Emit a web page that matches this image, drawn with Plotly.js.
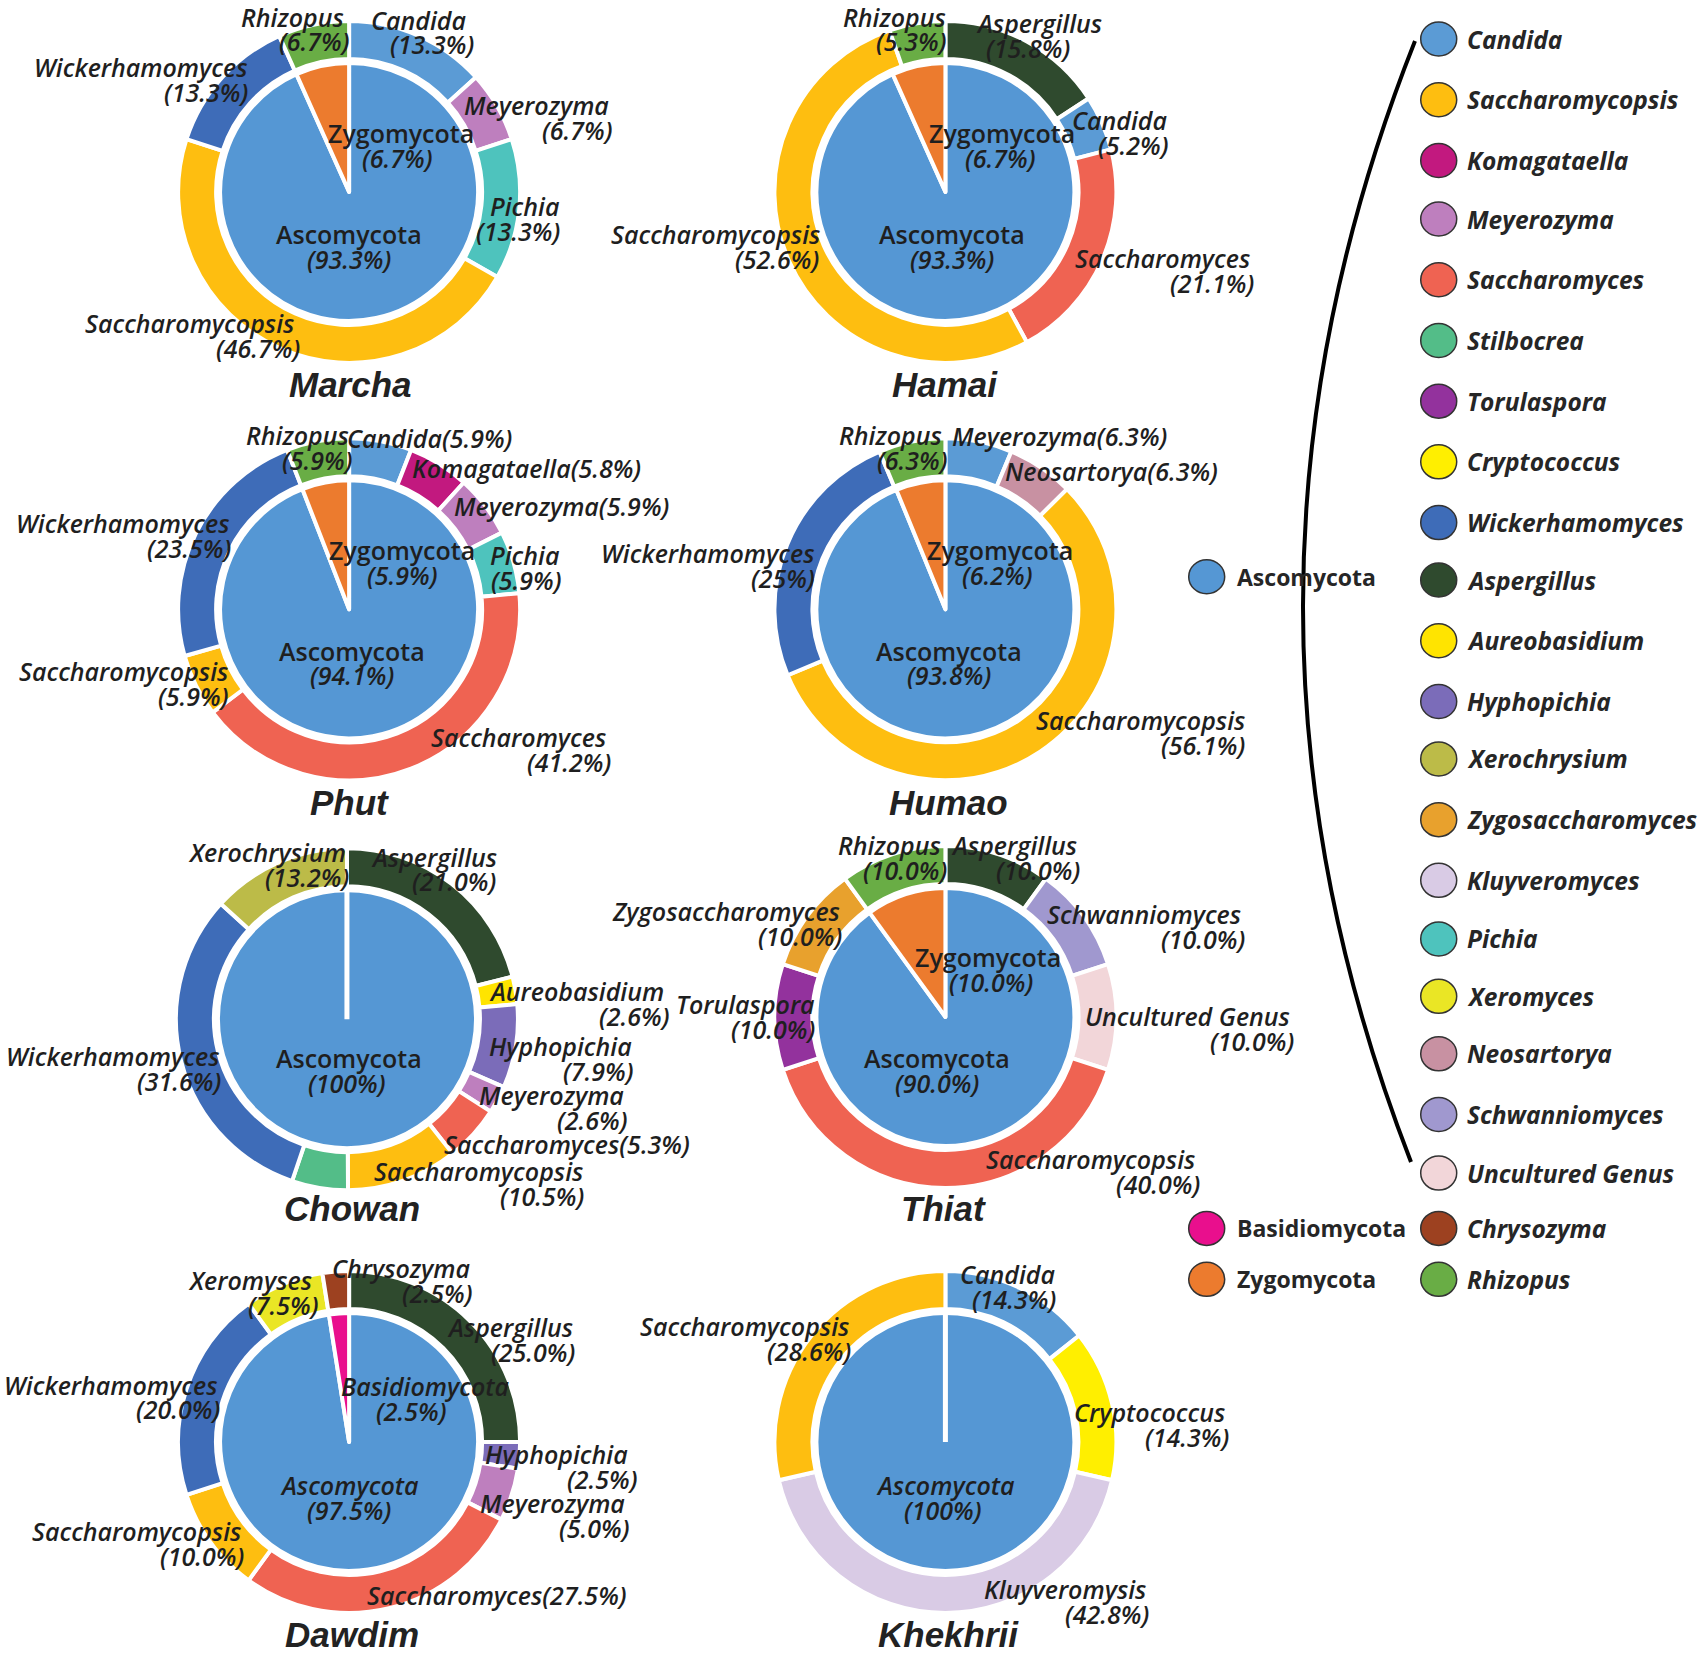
<!DOCTYPE html>
<html><head><meta charset="utf-8">
<script src="https://cdn.plot.ly/plotly-3.0.1.min.js"></script>
<style>html,body{margin:0;padding:0;background:#fff}</style>
</head><body><div id="chart" style="width:1700px;height:1655px"></div>
<script>
// ---------------- DATA ----------------
const sampleNames = ['Marcha','Hamai','Phut','Humao','Chowan','Thiat','Dawdim','Khekhrii'];

// Marcha
const marchaGenus  = ['Candida','Meyerozyma','Pichia','Saccharomycopsis','Wickerhamomyces','Rhizopus'];
const marchaValues = [13.3, 6.7, 13.3, 46.7, 13.3, 6.7];
const marchaText   = ['(13.3%)','(6.7%)','(13.3%)','(46.7%)','(13.3%)','(6.7%)'];
const marchaColorKey = ['Candida','Meyerozyma','Pichia','Saccharomycopsis','Wickerhamomyces','Rhizopus'];
const marchaPhylum = ['Ascomycota','Zygomycota'];
const marchaPhylumValues = [93.3, 6.7];
const marchaPhylumText = ['(93.3%)','(6.7%)'];

// Hamai
const hamaiGenus  = ['Aspergillus','Candida','Saccharomyces','Saccharomycopsis','Rhizopus'];
const hamaiValues = [15.8, 5.2, 21.1, 52.6, 5.3];
const hamaiText   = ['(15.8%)','(5.2%)','(21.1%)','(52.6%)','(5.3%)'];
const hamaiColorKey = ['Aspergillus','Candida','Saccharomyces','Saccharomycopsis','Rhizopus'];
const hamaiPhylum = ['Ascomycota','Zygomycota'];
const hamaiPhylumValues = [93.3, 6.7];
const hamaiPhylumText = ['(93.3%)','(6.7%)'];

// Phut
const phutGenus  = ['Candida','Komagataella','Meyerozyma','Pichia','Saccharomyces','Saccharomycopsis','Wickerhamomyces','Rhizopus'];
const phutValues = [5.9, 5.8, 5.9, 5.9, 41.2, 5.9, 23.5, 5.9];
const phutText   = ['(5.9%)','(5.8%)','(5.9%)','(5.9%)','(41.2%)','(5.9%)','(23.5%)','(5.9%)'];
const phutColorKey = ['Candida','Komagataella','Meyerozyma','Pichia','Saccharomyces','Saccharomycopsis','Wickerhamomyces','Rhizopus'];
const phutPhylum = ['Ascomycota','Zygomycota'];
const phutPhylumValues = [94.1, 5.9];
const phutPhylumText = ['(94.1%)','(5.9%)'];

// Humao
const humaoGenus  = ['Meyerozyma','Neosartorya','Saccharomycopsis','Wickerhamomyces','Rhizopus'];
const humaoValues = [6.3, 6.3, 56.1, 25, 6.3];
const humaoText   = ['(6.3%)','(6.3%)','(56.1%)','(25%)','(6.3%)'];
const humaoColorKey = ['Candida','Neosartorya','Saccharomycopsis','Wickerhamomyces','Rhizopus'];
const humaoPhylum = ['Ascomycota','Zygomycota'];
const humaoPhylumValues = [93.8, 6.2];
const humaoPhylumText = ['(93.8%)','(6.2%)'];

// Chowan
const chowanGenus  = ['Aspergillus','Aureobasidium','Hyphopichia','Meyerozyma','Saccharomyces','Saccharomycopsis','Stilbocrea','Wickerhamomyces','Xerochrysium'];
const chowanValues = [21.0, 2.6, 7.9, 2.6, 5.3, 10.5, 5.3, 31.6, 13.2];
const chowanText   = ['(21.0%)','(2.6%)','(7.9%)','(2.6%)','(5.3%)','(10.5%)','','(31.6%)','(13.2%)'];
const chowanColorKey = ['Aspergillus','Aureobasidium','Hyphopichia','Meyerozyma','Saccharomyces','Saccharomycopsis','Stilbocrea','Wickerhamomyces','Xerochrysium'];
const chowanPhylum = ['Ascomycota'];
const chowanPhylumValues = [100];
const chowanPhylumText = ['(100%)'];

// Thiat
const thiatGenus  = ['Aspergillus','Schwanniomyces','Uncultured Genus','Saccharomycopsis','Torulaspora','Zygosaccharomyces','Rhizopus'];
const thiatValues = [10.0, 10.0, 10.0, 40.0, 10.0, 10.0, 10.0];
const thiatText   = ['(10.0%)','(10.0%)','(10.0%)','(40.0%)','(10.0%)','(10.0%)','(10.0%)'];
const thiatColorKey = ['Aspergillus','Schwanniomyces','Uncultured Genus','Saccharomyces','Torulaspora','Zygosaccharomyces','Rhizopus'];
const thiatPhylum = ['Ascomycota','Zygomycota'];
const thiatPhylumValues = [90.0, 10.0];
const thiatPhylumText = ['(90.0%)','(10.0%)'];

// Dawdim
const dawdimGenus  = ['Aspergillus','Hyphopichia','Meyerozyma','Saccharomyces','Saccharomycopsis','Wickerhamomyces','Xeromyses','Chrysozyma'];
const dawdimValues = [25.0, 2.5, 5.0, 27.5, 10.0, 20.0, 7.5, 2.5];
const dawdimText   = ['(25.0%)','(2.5%)','(5.0%)','(27.5%)','(10.0%)','(20.0%)','(7.5%)','(2.5%)'];
const dawdimColorKey = ['Aspergillus','Hyphopichia','Meyerozyma','Saccharomyces','Saccharomycopsis','Wickerhamomyces','Xeromyces','Chrysozyma'];
const dawdimPhylum = ['Ascomycota','Basidiomycota'];
const dawdimPhylumValues = [97.5, 2.5];
const dawdimPhylumText = ['(97.5%)','(2.5%)'];

// Khekhrii
const khekhriiGenus  = ['Candida','Cryptococcus','Kluyveromysis','Saccharomycopsis'];
const khekhriiValues = [14.3, 14.3, 42.8, 28.6];
const khekhriiText   = ['(14.3%)','(14.3%)','(42.8%)','(28.6%)'];
const khekhriiColorKey = ['Candida','Cryptococcus','Kluyveromyces','Saccharomycopsis'];
const khekhriiPhylum = ['Ascomycota'];
const khekhriiPhylumValues = [100];
const khekhriiPhylumText = ['(100%)'];

// Legend entries
const legendGenus = ['Candida','Saccharomycopsis','Komagataella','Meyerozyma','Saccharomyces','Stilbocrea','Torulaspora','Cryptococcus','Wickerhamomyces','Aspergillus','Aureobasidium','Hyphopichia','Xerochrysium','Zygosaccharomyces','Kluyveromyces','Pichia','Xeromyces','Neosartorya','Schwanniomyces','Uncultured Genus','Chrysozyma','Rhizopus'];
const legendPhylum = ['Ascomycota','Basidiomycota','Zygomycota'];

const colorMap = {
  'Candida':'#5B9BD5','Saccharomycopsis':'#FEBE10','Komagataella':'#C2197F','Meyerozyma':'#BE7FBE',
  'Saccharomyces':'#EF6352','Stilbocrea':'#53BD88','Torulaspora':'#93329D','Cryptococcus':'#FFEF00',
  'Wickerhamomyces':'#3E6CB8','Aspergillus':'#2F4A2E','Aureobasidium':'#FFE400','Hyphopichia':'#7B6CB9',
  'Xerochrysium':'#BCBB48','Zygosaccharomyces':'#E8A12D','Kluyveromyces':'#D9CBE5','Pichia':'#4EC3BD',
  'Xeromyces':'#EAE625','Neosartorya':'#C891A2','Schwanniomyces':'#A098CF','Uncultured Genus':'#F2D6D9',
  'Chrysozyma':'#9D4120','Rhizopus':'#69AD45',
  'Ascomycota':'#5597D4','Basidiomycota':'#E90F8D','Zygomycota':'#EC7B2E'
};

// ---------------- LAYOUT POSITIONS (reference units) ----------------
const S = 1700/1568, W = 1700, H = 1655;
const centers = [[322,177],[872,177],[322,562],[872,562],[320,940],[872,938],[322,1330],[872,1330]];
const titlePos = [[323,355],[872,355],[322,740],[875,740],[325,1115],[870,1115],[325,1508],[875,1508]];
// [x, y, pctX, pctY] per genus label; pctX null => inline
const genusPos = [
  [[386,18,398],[495,97,532],[484,190,478],[175,298,238],[130,62,190],[270,16,290,38]],
  [[958,21,948],[1033,111,1045],[1072,238,1118],[660,216,717],[825,16,840,38]],
  [[396,404,null],[486,432,null],[518,467,null],[484,512,485],[478,680,525],[114,619,178],[113,482,174],[274,401,292]],
  [[977,402,null],[1025,434,null],[1052,664,1110],[653,510,722],[821,401,841]],
  [[400,790,419],[532,914,585],[517,965,552],[509,1010,546],[523,1055,null],[441,1080,500],null,[104,974,165],[246,786,283]],
  [[935,779,957],[1055,843,1110],[1095,937,1155],[1006,1069,1068],[688,926,713],[670,840,738],[820,779,835]],
  [[470,1224,492],[513,1341,555],[510,1386,548],[458,1471,null],[126,1412,186],[102,1277,164],[231,1181,261],[370,1170,403]],
  [[929,1175,935],[1060,1302,1095],[982,1466,1021],[687,1223,746]]
];
const phylumPos = [
  [[322,216,322],[370,123,366]],
  [[878,216,878],[924,123,922]],
  [[325,600,325],[371,507,371]],
  [[875,600,875],[922,507,920]],
  [[322,976,320]],
  [[864,976,864],[911,883,914]],
  [[322,1370,322],[392,1278,379]],
  [[872,1370,870]]
];
const phylumItalic = [false,false,false,false,false,false,true,true];
const legendGenusY = [36,92,148,202,258,314,370,426,482,535,591,647,700,756,812,866,919,972,1028,1082,1133,1180];
const legendPhylumY = [532,1133,1180];

const charts = [
  [marchaGenus,marchaValues,marchaText,marchaColorKey,marchaPhylum,marchaPhylumValues,marchaPhylumText],
  [hamaiGenus,hamaiValues,hamaiText,hamaiColorKey,hamaiPhylum,hamaiPhylumValues,hamaiPhylumText],
  [phutGenus,phutValues,phutText,phutColorKey,phutPhylum,phutPhylumValues,phutPhylumText],
  [humaoGenus,humaoValues,humaoText,humaoColorKey,humaoPhylum,humaoPhylumValues,humaoPhylumText],
  [chowanGenus,chowanValues,chowanText,chowanColorKey,chowanPhylum,chowanPhylumValues,chowanPhylumText],
  [thiatGenus,thiatValues,thiatText,thiatColorKey,thiatPhylum,thiatPhylumValues,thiatPhylumText],
  [dawdimGenus,dawdimValues,dawdimText,dawdimColorKey,dawdimPhylum,dawdimPhylumValues,dawdimPhylumText],
  [khekhriiGenus,khekhriiValues,khekhriiText,khekhriiColorKey,khekhriiPhylum,khekhriiPhylumValues,khekhriiPhylumText]
];

// ---------------- BUILD ----------------
const RO = 171, RI = 133, RP = 129;
const px = v => v*S/W, py = v => 1 - v*S/H;
const ax = v => v/W, ay = v => 1 - v/H;   // actual pixels -> paper

const traces = [], annotations = [], shapes = [];
const labelFont = (italic) => ({family:'Open Sans, sans-serif', size:25, color:'#1f1f1f', weight:600, style: italic?'italic':'normal'});

function addLabel(name, pct, pos, italicName){
  if(!pos) return;
  const [x,y,pxx,pyy] = pos;
  if(pxx === null){
    annotations.push({text:name+pct, x:px(x), y:py(y), xref:'paper', yref:'paper', showarrow:false, xanchor:'center', yanchor:'middle', font:labelFont(true)});
  } else {
    annotations.push({text:name, x:px(x), y:py(y), xref:'paper', yref:'paper', showarrow:false, xanchor:'center', yanchor:'middle', font:labelFont(italicName)});
    annotations.push({text:pct, x:px(pxx), y:py(pyy !== undefined ? pyy : y+23), xref:'paper', yref:'paper', showarrow:false, xanchor:'center', yanchor:'middle', font:labelFont(true)});
  }
}

charts.forEach((c, i) => {
  const [g, gv, gt, gc, p, pv, pt] = c;
  const X = centers[i][0]*S, Y = centers[i][1]*S;
  traces.push({
    type:'pie', labels:g.map((n,k)=>n+'#'+k), values:gv, sort:false, direction:'clockwise', rotation:0,
    hole: RI/RO, textinfo:'none', hoverinfo:'none', showlegend:false,
    marker:{colors: gc.map(k=>colorMap[k]), line:{color:'#ffffff', width:4}},
    domain:{x:[ax(X-RO), ax(X+RO)], y:[ay(Y+RO), ay(Y-RO)]}
  });
  traces.push({
    type:'pie', labels:p, values:pv, sort:false, direction:'clockwise', rotation:0,
    textinfo:'none', hoverinfo:'none', showlegend:false,
    marker:{colors: p.map(k=>colorMap[k]), line:{color:'#ffffff', width:4}},
    domain:{x:[ax(X-RP), ax(X+RP)], y:[ay(Y+RP), ay(Y-RP)]}
  });
  if(p.length === 1){
    shapes.push({type:'line', xref:'paper', yref:'paper', x0:ax(X), x1:ax(X), y0:ay(Y), y1:ay(Y-RP-2), line:{color:'#ffffff', width:5}});
  }
  g.forEach((n,k) => addLabel(n, gt[k], genusPos[i][k], true));
  p.forEach((n,k) => addLabel(n, pt[k], phylumPos[i][k], phylumItalic[i]));
  annotations.push({text:sampleNames[i], x:px(titlePos[i][0]), y:py(titlePos[i][1]), xref:'paper', yref:'paper', showarrow:false, xanchor:'center', yanchor:'middle',
    font:{family:'Liberation Sans, Arial, sans-serif', size:35, color:'#222222', weight:700, style:'italic'}});
});

// legend circles + text
function legendItem(name, cxRef, cyRef, txRef, italic){
  const X = cxRef*S, Y = cyRef*S;
  shapes.push({type:'circle', xref:'paper', yref:'paper', x0:ax(X-18), x1:ax(X+18), y0:ay(Y+17), y1:ay(Y-17),
    fillcolor:colorMap[name], line:{color:'#333333', width:1.5}});
  annotations.push({text:name, x:px(txRef), y:py(cyRef), xref:'paper', yref:'paper', showarrow:false, xanchor:'left', yanchor:'middle',
    font:{family:'Open Sans, sans-serif', size: italic?24.5:23, color:'#262626', weight:700, style: italic?'italic':'normal'}});
}
legendGenus.forEach((n,k) => legendItem(n, 1327, legendGenusY[k], 1351, true));
legendPhylum.forEach((n,k) => legendItem(n, 1113, legendPhylumY[k], 1139, false));

// bracket curve
const P0 = [1415,41], P1 = [1193,601], P2 = [1411,1162];
shapes.push({type:'path', xref:'paper', yref:'paper', layer:'above',
  path:`M ${ax(P0[0])} ${ay(P0[1])} Q ${ax(P1[0])} ${ay(P1[1])} ${ax(P2[0])} ${ay(P2[1])}`,
  line:{color:'#000000', width:4}});

const layout = {
  width:1700, height:1655, margin:{l:0,r:0,t:0,b:0},
  paper_bgcolor:'#ffffff', plot_bgcolor:'#ffffff', showlegend:false,
  annotations, shapes
};
Plotly.newPlot('chart', traces, layout, {displayModeBar:false, staticPlot:true});
</script>
</body></html>
